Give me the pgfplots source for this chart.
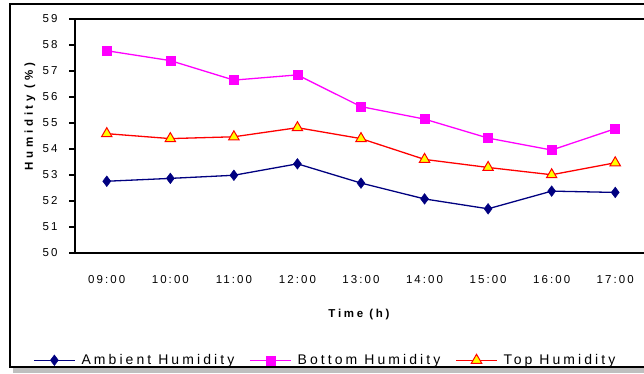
\documentclass[border=0pt]{standalone}
\usepackage{pgfplots}
\pgfplotsset{compat=1.18}
\usepackage{fontspec}
\setmainfont{Liberation Sans}
\newfontfamily\tickfont[LetterSpace=18]{Liberation Sans}
\newfontfamily\labfont[LetterSpace=24]{Liberation Sans Bold}
\newfontfamily\ylabfont[LetterSpace=32]{Liberation Sans Bold}
\newfontfamily\legfont[LetterSpace=22]{Liberation Sans}
\definecolor{navy}{RGB}{0,0,128}
\definecolor{mag}{RGB}{255,0,255}
\definecolor{rd}{RGB}{255,0,0}
\definecolor{yl}{RGB}{255,255,0}
\begin{document}
\begin{tikzpicture}[x=1pt,y=1pt]
\useasboundingbox (0,0) rectangle (644,373);
\clip (0,0) rectangle (644,373);
\fill[black!25] (13,0) rectangle (660,5);
\draw[line width=2pt] (660,369) -- (10,369) -- (10,6) -- (660,6);
\begin{axis}[
  at={(75pt,120pt)}, anchor=south west,
  scale only axis, width=572pt, height=234pt,
  xmin=-0.5, xmax=8.5, ymin=50, ymax=59,
  xtick={0,...,8},
  xticklabels={09:00,10:00,11:00,12:00,13:00,14:00,15:00,16:00,17:00},
  ytick={50,...,59},
  /pgf/number format/assume math mode=true,
  axis line style={line width=1.4pt},
  x tick style={draw=none},
  y tick style={line width=1.2pt, black},
  tick align=outside, major tick length=6pt,
  xticklabel style={font=\fontsize{11.5}{12}\tickfont, anchor=center, yshift=-21pt},
  yticklabel style={font=\fontsize{11.5}{12}\tickfont, anchor=center, xshift=-19pt},
  xlabel={Time (h)},
  xlabel style={font=\fontsize{11.5}{12}\labfont, at={(axis description cs:0.4965,-0.262)}, anchor=center},
  ylabel={Humidity (\%)},
  ylabel style={font=\fontsize{11.5}{12}\ylabfont, at={(axis description cs:-0.0787,0.583)}, anchor=center},
  legend columns=3,
  legend style={draw=none, fill=none, at={(axis description cs:-0.0734,-0.458)}, anchor=west,
    inner sep=0pt, nodes={inner sep=0pt}, font=\fontsize{14}{15}\legfont,
    /tikz/every odd column/.append style={column sep=6pt},
    /tikz/every even column/.append style={column sep=15pt}},
  legend cell align=left,
  legend image code/.code={\draw[mark repeat=2,mark phase=2,#1] plot coordinates {(0pt,0pt)(20.5pt,0pt)(41pt,0pt)};},
]
\addplot[navy, line width=1.3pt, mark=diamond*, mark size=5.3pt, mark options={fill=navy, draw=navy, line width=0.5pt}]
 coordinates {(0,52.76)(1,52.87)(2,52.99)(3,53.43)(4,52.69)(5,52.08)(6,51.70)(7,52.38)(8,52.33)};
\addlegendentry{Ambient Humidity}
\addplot[mag, line width=1.3pt, mark=square*, mark size=4.5pt, mark options={fill=mag, draw=mag, line width=0.5pt}]
 coordinates {(0,57.78)(1,57.40)(2,56.65)(3,56.85)(4,55.63)(5,55.15)(6,54.42)(7,53.96)(8,54.78)};
\addlegendentry{Bottom Humidity}
\addplot[rd, line width=1.3pt, mark=triangle*, mark size=6pt, mark options={fill=yl, draw=rd, line width=1pt}]
 coordinates {(0,54.59)(1,54.40)(2,54.47)(3,54.82)(4,54.40)(5,53.60)(6,53.29)(7,53.01)(8,53.47)};
\addlegendentry{Top Humidity}
\end{axis}
\end{tikzpicture}
\end{document}
